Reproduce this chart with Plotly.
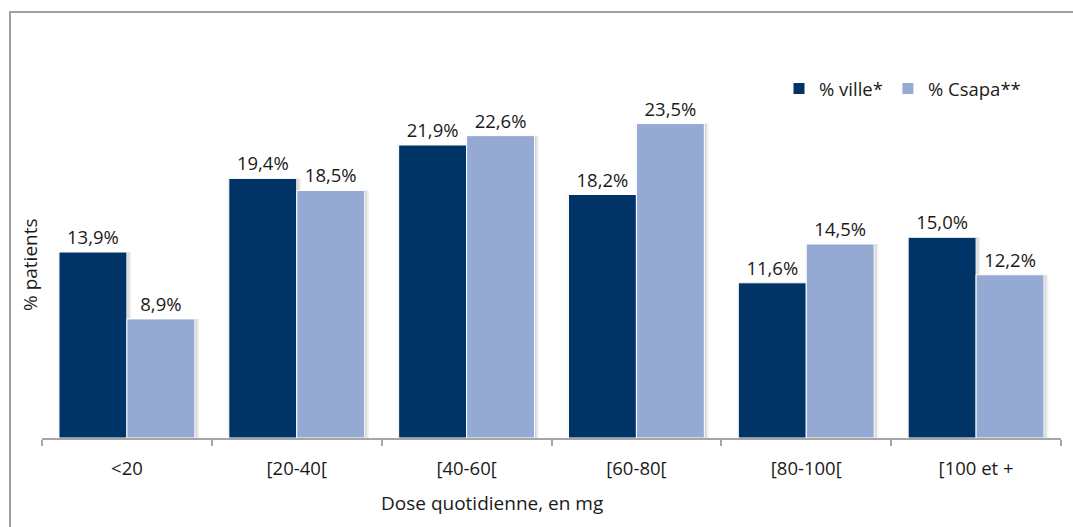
import plotly.graph_objects as go

categories = ["<20", "[20-40[", "[40-60[", "[60-80[", "[80-100[", "[100 et +"]
ville = [13.9, 19.4, 21.9, 18.2, 11.6, 15.0]
csapa = [8.9, 18.5, 22.6, 23.5, 14.5, 12.2]
series_names = ["% ville*", "% Csapa**"]

DARK = "#003366"
LIGHT = "#95AAD2"
FONT = "Open Sans"
TXT = "#1a1a1a"

def fmt(v):
    return f"{v:.1f}".replace(".", ",") + "%"

W = 0.4
fig = go.Figure()

# soft shadows behind the bars
for vals, off in [(ville, -W), (csapa, 0.0)]:
    for dx, alpha in [(0.026, 0.05), (0.016, 0.07), (0.008, 0.08), (-0.006, 0.05)]:
        fig.add_trace(go.Bar(
            x=categories, y=vals, offset=off + dx, width=W,
            marker=dict(color=f"rgba(0,0,0,{alpha})", line=dict(width=0)),
            showlegend=False, hoverinfo="skip"))

fig.add_trace(go.Bar(
    x=categories, y=ville, name=series_names[0], offset=-W, width=W,
    marker=dict(color=DARK, line=dict(color="white", width=1)),
    text=[fmt(v) for v in ville], textposition="outside",
    textfont=dict(family=FONT, size=18.5, color=TXT), cliponaxis=False))
fig.add_trace(go.Bar(
    x=categories, y=csapa, name=series_names[1], offset=0.0, width=W,
    marker=dict(color=LIGHT, line=dict(color="white", width=1)),
    text=[fmt(v) for v in csapa], textposition="outside",
    textfont=dict(family=FONT, size=18.5, color=TXT), cliponaxis=False))

L, R, T, B = 42, 12, 50, 89
PW = 1073 - L - R
PH = 527 - T - B

def px(x):
    return (x - L) / PW

def py(y):
    return (527 - B - y) / PH

fig.update_layout(
    width=1073, height=527,
    margin=dict(l=L, r=R, t=T, b=B),
    paper_bgcolor="white", plot_bgcolor="white",
    barmode="overlay",
    font=dict(family=FONT, size=18, color=TXT),
    showlegend=True,
    legend=dict(orientation="h", x=px(779), y=py(70), xanchor="left", yanchor="top",
                font=dict(family=FONT, size=18.5, color=TXT),
                itemwidth=30, traceorder="normal", bgcolor="rgba(0,0,0,0)",
                tracegroupgap=0),
    xaxis=dict(type="category", showgrid=False, zeroline=False,
               showline=True, linecolor="#A6A6A6", linewidth=2,
               ticks="outside", tickson="boundaries", ticklen=6, tickwidth=2,
               tickcolor="#A6A6A6", ticklabelstandoff=13,
               tickfont=dict(family=FONT, size=18.5, color=TXT),
               range=[-0.5, 5.5]),
    yaxis=dict(range=[0, 29], visible=False),
    shapes=[dict(type="rect", xref="paper", yref="paper",
                 x0=px(10), x1=px(1080), y0=py(540), y1=py(12),
                 line=dict(color="#A0A0A0", width=2), fillcolor="rgba(0,0,0,0)",
                 layer="below")],
    annotations=[
        dict(text="Dose quotidienne, en mg", xref="paper", yref="paper",
             x=px(492), y=py(503), xanchor="center", yanchor="middle", showarrow=False,
             font=dict(family=FONT, size=19, color=TXT)),
        dict(text="% patients", xref="paper", yref="paper",
             x=px(30), y=py(265), xanchor="center", yanchor="middle", showarrow=False,
             textangle=-90,
             font=dict(family=FONT, size=19, color=TXT)),
    ],
)

fig.write_html("out.html")
